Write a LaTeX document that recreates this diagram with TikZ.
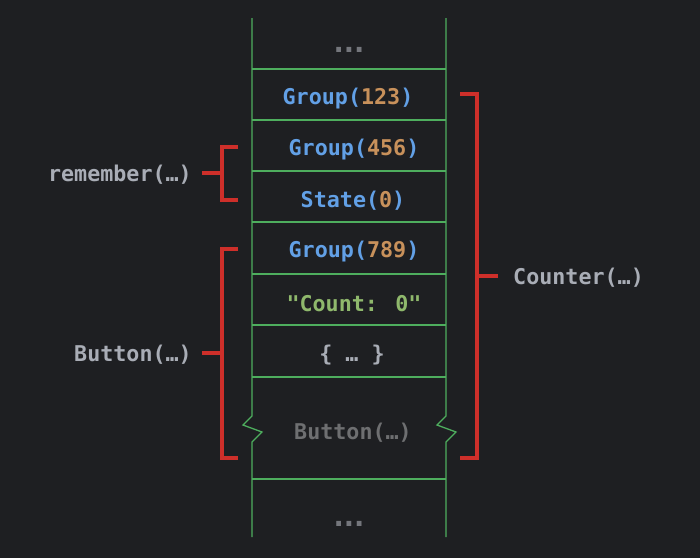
\documentclass[tikz,border=0pt]{standalone}
\usepackage{fontspec}
\newfontfamily\codefont{DejaVu Sans Mono}
\newfontfamily\dotfont{DejaVu Sans}
\definecolor{bgc}{HTML}{1E1F22}
\definecolor{blu}{HTML}{62A0E6}
\definecolor{num}{HTML}{C8915B}
\definecolor{strc}{HTML}{8FB86C}
\definecolor{lbl}{HTML}{A9ADB6}
\definecolor{dim}{HTML}{6E6F71}
\definecolor{dotc}{HTML}{74767C}
\definecolor{grn}{HTML}{4EAE5E}
\definecolor{rd}{HTML}{CE2F2A}
\begin{document}
\begin{tikzpicture}[x=1pt,y=-1pt,
  txt/.style={font=\codefont\bfseries\fontsize{21.7}{24}\selectfont, inner sep=0pt},
  dotsty/.style={font=\dotfont\bfseries\fontsize{27}{30}\selectfont, text=dotc, inner sep=0pt},
  col/.style={draw=grn, line width=1.3pt},
  brk/.style={draw=rd, line width=4pt, line join=miter}]
\fill[bgc] (0,0) rectangle (700,558);
\useasboundingbox (0,0) rectangle (700,558);
% column
\draw[col] (252,18) -- (252,416) -- (243,425) -- (262,432) -- (252,442) -- (252,537);
\draw[col] (446,18) -- (446,416) -- (437,425) -- (456,432) -- (446,442) -- (446,537);
\foreach \y in {69,120,171,222,274,325,377,479}
  \draw[col] (252,\y) -- (446,\y);
% cells
\node[dotsty,anchor=base] (dtop) at (349,52) {...};
\node[txt] (g123) at (348,99) {\textcolor{blu}{Group(}\textcolor{num}{123}\textcolor{blu}{)}};
\node[txt] (g456) at (354,150) {\textcolor{blu}{Group(}\textcolor{num}{456}\textcolor{blu}{)}};
\node[txt] (st0) at (353,201) {\textcolor{blu}{State(}\textcolor{num}{0}\textcolor{blu}{)}};
\node[txt] (g789) at (354,252) {\textcolor{blu}{Group(}\textcolor{num}{789}\textcolor{blu}{)}};
\node[txt,text=strc] (cnt) at (354,304) {"Count: 0"};
\node[txt,text=lbl] (blk) at (352,355) {\{ … \}};
\node[txt,text=dim] (btn) at (353,433) {Button(…)};
\node[dotsty,anchor=base] (dbot) at (349,526) {...};
% labels
\node[txt,text=lbl,anchor=east] (rem) at (192,175) {remember(…)};
\node[txt,text=lbl,anchor=east] (btl) at (192,355) {Button(…)};
\node[txt,text=lbl,anchor=west] (ctr) at (513,278) {Counter(…)};
% brackets
\coordinate (remt) at (202,173);
\coordinate (btnt) at (202,353);
\coordinate (ctrt) at (498,276);
\draw[brk] (238,147) -- (222,147) -- (222,200) -- (238,200);
\draw[brk] (remt) -- (222,173);
\draw[brk] (238,249) -- (222,249) -- (222,458) -- (238,458);
\draw[brk] (btnt) -- (222,353);
\draw[brk] (460,94) -- (477,94) -- (477,458) -- (460,458);
\draw[brk] (ctrt) -- (477,276);
\end{tikzpicture}
\end{document}
